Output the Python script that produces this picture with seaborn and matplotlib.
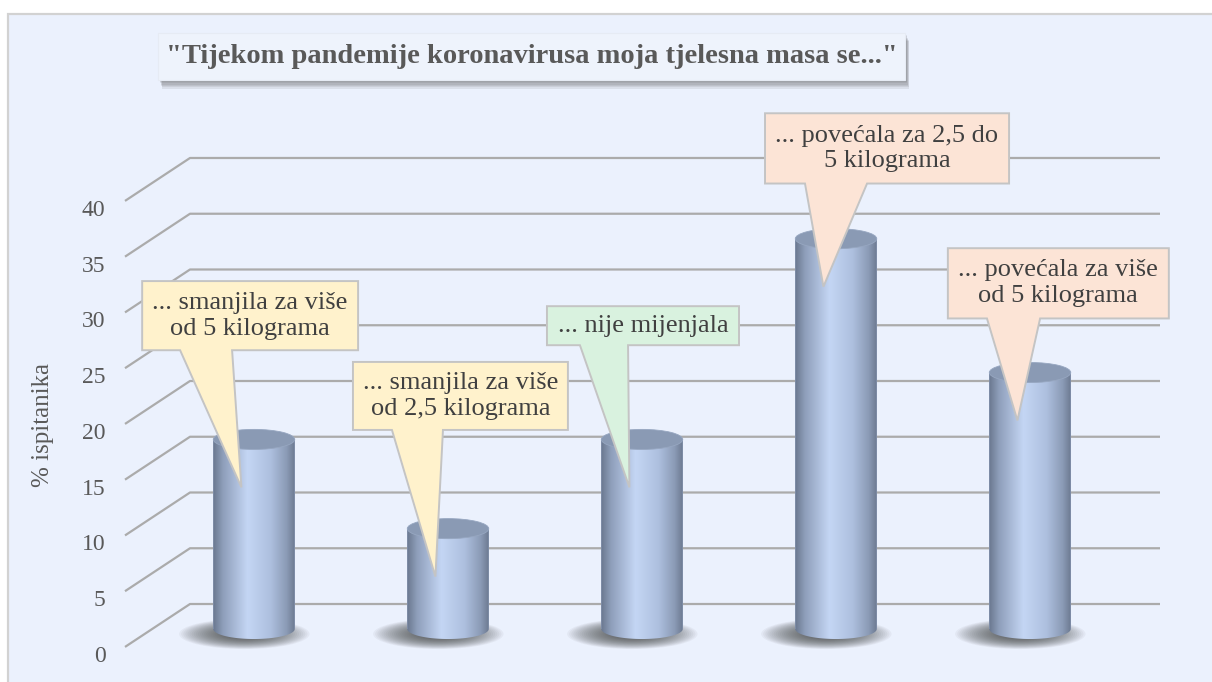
import numpy as np
import pandas as pd
import matplotlib
matplotlib.use("Agg")
import matplotlib.pyplot as plt
import matplotlib.transforms as mtrans
import seaborn as sns
from matplotlib.patches import Rectangle, Ellipse, Polygon
from matplotlib.path import Path
from matplotlib.colors import LinearSegmentedColormap

# ---------------- data ----------------
categories = [
    "... smanjila za više\nod 5 kilograma",
    "... smanjila za više\nod 2,5 kilograma",
    "... nije mijenjala",
    "... povećala za 2,5 do\n5 kilograma",
    "... povećala za više\nod 5 kilograma",
]
values = [17, 9, 17, 35, 23]
y_ticks = [0, 5, 10, 15, 20, 25, 30, 35, 40]
title_text = '"Tijekom pandemije koronavirusa moja tjelesna masa se..."'
y_label = "% ispitanika"

# ---------------- layout / style ----------------
callout_fill = ["#FFF2CC", "#FFF2CC", "#D9F2DF", "#FCE4D6", "#FCE4D6"]
callout_dx = [-0.02, 0.064, 0.005, 0.263, 0.146]      # box centre offset from bar
callout_cy = [28.1, 20.9, 27.2, 43.1, 31.0]           # box centre (data units)
callout_w = [1.113, 1.108, 0.990, 1.258, 1.139]
callout_h = [6.2, 6.1, 3.5, 6.3, 6.3]
tail_base = [(-0.381, -0.113), (-0.289, -0.026), (-0.32, -0.072), (-0.16, 0.16), (-0.222, 0.052)]
BAR_W = 0.42
CAP_H = 1.8
BACK_OFF = 2.24
FRONT_OFF = -1.61

sns.set_theme(style="white")
plt.rcParams["font.family"] = ["Liberation Serif", "DejaVu Serif"]

W, H = 1212, 682
fig = plt.figure(figsize=(W / 100, H / 100), dpi=100)
fig.patch.set_facecolor("white")

# chart area background
fig.add_artist(Rectangle((8 / W, -0.02), 1.05, (H - 14) / H + 0.02,
                         transform=fig.transFigure, fc="#EBF1FD", ec="#D2D2D2",
                         lw=1.6, zorder=-10))

ax = fig.add_axes([125 / W, 17 / H, 1035 / W, 535 / H])
ax.patch.set_alpha(0)

df = pd.DataFrame({"kat": categories, "val": values})
sns.barplot(data=df, x="kat", y="val", ax=ax, width=BAR_W, color="#AFC1E0",
            saturation=1, edgecolor="none", zorder=3)

XLIM = (-0.665, 4.670)
YLIM = (-3.23, 44.75)

# gridlines (back wall + left wall diagonals)
blend = mtrans.blended_transform_factory(ax.transAxes, ax.transData)
for t in y_ticks:
    ax.plot([0, 0.0628, 1], [t + FRONT_OFF, t + BACK_OFF, t + BACK_OFF],
            transform=blend, color="#ABABAB", lw=1.6, zorder=1,
            solid_capstyle="butt", clip_on=False)

# cylinders
cmap = LinearSegmentedColormap.from_list("cyl", [
    (0.0, "#6A778E"), (0.12, "#8E9EBA"), (0.42, "#C4D6F4"),
    (0.70, "#AEC0DF"), (0.90, "#8B9BB6"), (1.0, "#6D7A91")])
grad = np.linspace(0, 1, 256).reshape(1, -1)
for i, bar in enumerate(ax.patches):
    x0 = bar.get_x()
    w = bar.get_width()
    h = bar.get_height()
    cx = x0 + w / 2
    x1 = x0 + w
    # soft floor shadow
    n = 24
    for k in range(n):
        s = 1 - k * 0.032
        ax.add_patch(Ellipse((cx - 0.05, -0.45), w * 1.6 * s, CAP_H * 1.5 * s,
                             fc="#3C3C3C", ec="none", alpha=0.05, zorder=2))
    th = np.linspace(np.pi, 2 * np.pi, 60)
    verts = [(x0, h), (x0, 0)] + [(cx + w / 2 * np.cos(a), CAP_H / 2 * np.sin(a)) for a in th] + [(x1, h), (x0, h)]
    path = Path(verts, closed=True)
    im = ax.imshow(grad, extent=(x0, x1, -CAP_H / 2, h), aspect="auto",
                   cmap=cmap, zorder=4, interpolation="bicubic")
    im.set_clip_path(path, ax.transData)
    ax.add_patch(Ellipse((cx, h), w, CAP_H, fc="#8A9AB4", ec="#97A7C1", lw=0.6, zorder=5))

ax.set_xlim(*XLIM)
ax.set_ylim(*YLIM)

# callouts
for i, v in enumerate(values):
    cx = i + callout_dx[i]
    cy = callout_cy[i]
    L, R = cx - callout_w[i] / 2, cx + callout_w[i] / 2
    T, B = cy + callout_h[i] / 2, cy - callout_h[i] / 2
    tip = (i - 0.065, v - 4.3)
    b1, b2 = i + tail_base[i][0], i + tail_base[i][1]
    poly = Polygon([(L, T), (R, T), (R, B), (b2, B), tip, (b1, B), (L, B)],
                   closed=True, fc=callout_fill[i], ec="#C4C4C4", lw=1.4,
                   zorder=8, clip_on=False, joinstyle="miter")
    ax.add_patch(poly)
    ax.text(cx, cy, categories[i], ha="center", va="center", fontsize=19,
            color="#404040", linespacing=1.22, zorder=9, clip_on=False)

# axes styling
sns.despine(ax=ax, left=True, bottom=True)
ax.set_xticks([])
ax.set_xlabel("")
ax.set_ylabel("")
ax.set_yticks(y_ticks)
ax.set_yticklabels([str(t) for t in y_ticks])
ax.tick_params(axis="y", length=0, pad=14, labelsize=17, labelcolor="#595959")
shift = mtrans.ScaledTranslation(0, (FRONT_OFF * 11.15 - 7) / 100, fig.dpi_scale_trans)
for lab in ax.get_yticklabels():
    lab.set_transform(lab.get_transform() + shift)

fig.text(43 / W, (H - 425) / H, y_label, rotation=90, ha="center", va="center",
         fontsize=18, color="#595959")

# title box with shadow
tx0, tx1, ty0, ty1 = 158, 905, 33, 80
for k in range(6):
    fig.add_artist(Rectangle(((tx0 + 2 + k * 0.4) / W, (H - ty1 - 2 - k * 1.3) / H),
                             (tx1 - tx0) / W, (ty1 - ty0) / H, transform=fig.transFigure,
                             fc="#4A4A4A", ec="none", alpha=0.1, zorder=10))
fig.add_artist(Rectangle((tx0 / W, (H - ty1) / H), (tx1 - tx0) / W, (ty1 - ty0) / H,
                         transform=fig.transFigure, fc="#EEF3FC", ec="#E6EBF4",
                         lw=0.8, zorder=11))
fig.text((tx0 + tx1) / 2 / W, (H - (ty0 + ty1) / 2) / H, title_text, ha="center",
         va="center", fontsize=20.5, fontweight="bold", color="#595959", zorder=12)

fig.savefig("out.png", dpi=100, facecolor=fig.get_facecolor())
